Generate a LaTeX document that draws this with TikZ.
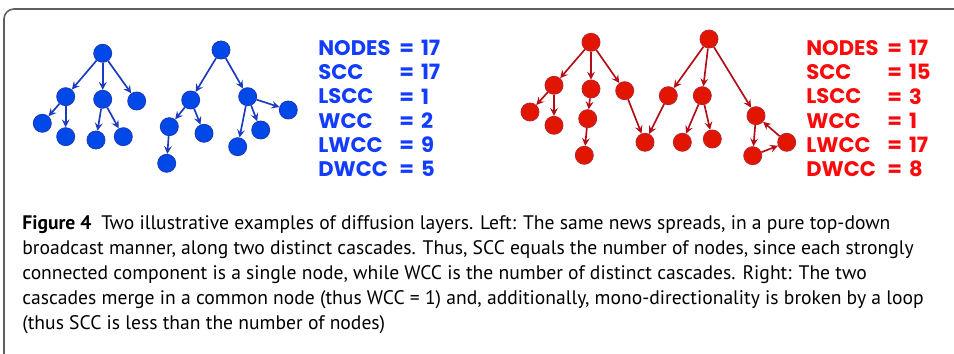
\documentclass[tikz,border=0pt]{standalone}
\usepackage{xcolor}
\usepackage{fontspec}
\setmainfont{PT Sans}
\newfontfamily\statfont{Poppins}
\usepackage{tikz}
\usetikzlibrary{arrows, positioning}
\definecolor{nodeblue}{RGB}{0, 72, 232}
\definecolor{edgeblue}{RGB}{28, 58, 190}
\definecolor{textblue}{RGB}{18, 60, 255}
\definecolor{nodered}{RGB}{226, 22, 0}
\definecolor{edgered}{RGB}{180, 12, 22}
\definecolor{textred}{RGB}{250, 10, 10}
\definecolor{framegray}{RGB}{95, 95, 95}

\begin{document}
\begin{tikzpicture}[x=0.02cm, y=-0.02cm,
    bdot/.style={circle, draw=edgeblue, fill=nodeblue, minimum size=0.36cm, inner sep=0pt, line width=0.5pt},
    rdot/.style={circle, draw=edgered!90, fill=nodered, minimum size=0.36cm, inner sep=0pt, line width=0.5pt},
    barrow/.style={->, >=stealth, line width=0.95pt, edgeblue},
    rarrow/.style={->, >=stealth, line width=0.95pt, edgered},
    stats/.style={anchor=north west, align=left, inner sep=0pt, font=\statfont\bfseries\fontsize{12}{13.8}\selectfont, text=#1},
    caption/.style={anchor=north west, align=left, inner sep=0pt, font=\fontsize{11.15}{14.2}\selectfont}
]
    \useasboundingbox (0,0) rectangle (954,354);
    \draw[framegray, line width=0.9pt, rounded corners=0.2cm] (970,9) -- (4,9) -- (4,364) -- (970,364);

    % left: two separate cascades
    \node[bdot] (a0) at (102.7,53.3) {};
    \node[bdot] (a1) at (65.7,96.7) {};
    \node[bdot] (a2) at (102.7,99.3) {};
    \node[bdot] (a3) at (136.7,101) {};
    \node[bdot] (a4) at (42.3,123.3) {};
    \node[bdot] (a5) at (65.7,136.7) {};
    \node[bdot] (a6) at (96,140) {};
    \node[bdot] (a7) at (123.3,136.7) {};

    \node[bdot] (b0) at (221,50) {};
    \node[bdot] (b1) at (190.7,100) {};
    \node[bdot] (b2) at (247.7,96.7) {};
    \node[bdot] (b3) at (169.3,126.7) {};
    \node[bdot] (b4) at (204,133.3) {};
    \node[bdot] (b5) at (166.7,163.3) {};
    \node[bdot] (b6) at (237.7,146.7) {};
    \node[bdot] (b7) at (260.7,130) {};
    \node[bdot] (b8) at (288.3,110) {};

    \draw[barrow] (a0) -- (a1);
    \draw[barrow] (a0) -- (a2);
    \draw[barrow] (a0) -- (a3);
    \draw[barrow] (a1) -- (a4);
    \draw[barrow] (a1) -- (a5);
    \draw[barrow] (a2) -- (a6);
    \draw[barrow] (a2) -- (a7);

    \draw[barrow] (b0) -- (b1);
    \draw[barrow] (b0) -- (b2);
    \draw[barrow] (b1) -- (b3);
    \draw[barrow] (b1) -- (b4);
    \draw[barrow] (b3) -- (b5);
    \draw[barrow] (b2) -- (b6);
    \draw[barrow] (b2) -- (b7);
    \draw[barrow] (b2) -- (b8);

    \node[stats=textblue] (lnames) at (318,40) {NODES\\SCC\\LSCC\\WCC\\LWCC\\DWCC};
    \node[stats=textblue] (lvalues) at (399,40) {=\,\,17\\=\,\,17\\=\,\,1\\=\,\,2\\=\,\,9\\=\,\,5};

    % right: merged cascades with a loop
    \node[rdot] (c0) at (591,42.3) {};
    \node[rdot] (c1) at (554,85.3) {};
    \node[rdot] (c2) at (591,89) {};
    \node[rdot] (c3) at (624.7,90.7) {};
    \node[rdot] (c4) at (530,112) {};
    \node[rdot] (c5) at (554,125.3) {};
    \node[rdot] (c6) at (587.7,118.7) {};
    \node[rdot] (c7) at (584.3,155.3) {};
    \node[rdot] (merge) at (645,142.3) {};

    \node[rdot] (d0) at (709,39) {};
    \node[rdot] (d1) at (668.3,95.7) {};
    \node[rdot] (d2) at (702.3,95.7) {};
    \node[rdot] (d3) at (756,115.7) {};
    \node[rdot] (d4) at (682.3,142.3) {};
    \node[rdot] (d5) at (712.3,139) {};
    \node[rdot] (d6) at (752.7,155.7) {};
    \node[rdot] (d7) at (786.7,142.3) {};

    \draw[rarrow] (c0) -- (c1);
    \draw[rarrow] (c0) -- (c2);
    \draw[rarrow] (c0) -- (c3);
    \draw[rarrow] (c1) -- (c4);
    \draw[rarrow] (c1) -- (c5);
    \draw[rarrow] (c2) -- (c6);
    \draw[rarrow] (c6) -- (c7);
    \draw[rarrow] (c3) -- (merge);
    \draw[rarrow] (d1) -- (merge);

    \draw[rarrow] (d0) -- (d1);
    \draw[rarrow] (d0) -- (d2);
    \draw[rarrow] (d0) -- (d3);
    \draw[rarrow] (d2) -- (d4);
    \draw[rarrow] (d2) -- (d5);
    \draw[rarrow] (d3) -- (d6);
    \draw[rarrow] (d6) -- (d7);
    \draw[rarrow] (d7) -- (d3);

    \node[stats=textred] (rnames) at (806,40) {NODES\\SCC\\LSCC\\WCC\\LWCC\\DWCC};
    \node[stats=textred] (rvalues) at (887,40) {=\,\,17\\=\,\,15\\=\,\,3\\=\,\,1\\=\,\,17\\=\,\,8};

    \node[caption] (cap) at (22,215) {\textbf{Figure 4}\enspace Two illustrative examples of diffusion layers. Left: The same news spreads, in a pure top-down\\
broadcast manner, along two distinct cascades. Thus, SCC equals the number of nodes, since each strongly\\
connected component is a single node, while WCC is the number of distinct cascades. Right: The two\\
cascades merge in a common node (thus WCC = 1) and, additionally, mono-directionality is broken by a loop\\
(thus SCC is less than the number of nodes)};
\end{tikzpicture}
\end{document}
